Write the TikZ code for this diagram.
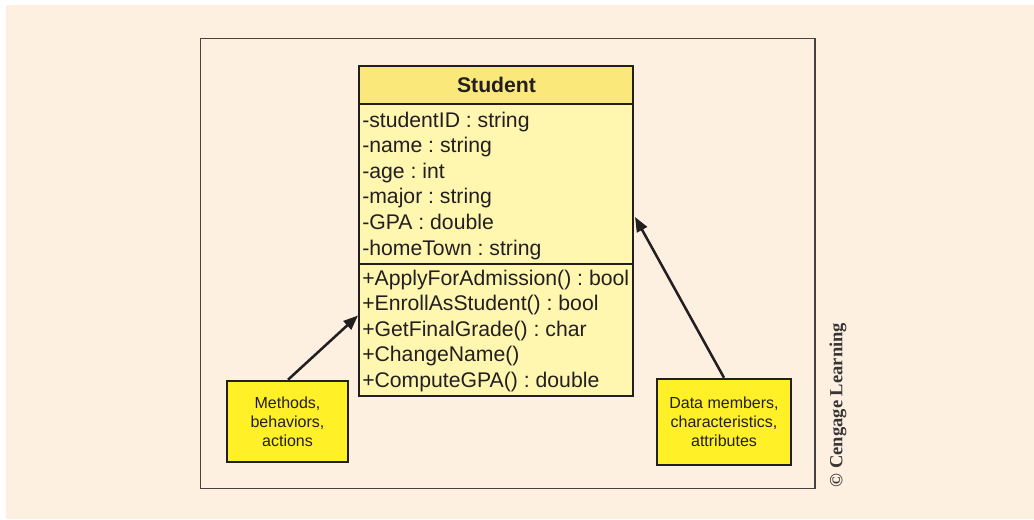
\documentclass[tikz,border=0pt]{standalone}
\usepackage{fontspec}
\setmainfont{Liberation Sans}
\newfontfamily\credfont{Liberation Serif}
\usetikzlibrary{arrows.meta}
\frenchspacing

\definecolor{paper}{RGB}{253,240,225}
\definecolor{ink}{RGB}{35,31,32}
\definecolor{framegray}{RGB}{70,66,66}
\definecolor{headyellow}{RGB}{250,232,122}
\definecolor{bodyyellow}{RGB}{255,246,176}
\definecolor{noteyellow}{RGB}{255,240,40}

\tikzset{
  px/.style={x=0.75pt,y=-0.75pt},
  compartment/.style={draw=ink,line width=1.9pt,rectangle,inner sep=0pt,
    minimum width=205.5pt},
  member/.style={anchor=base west,inner sep=0pt,text=ink,
    font=\fontsize{15.9}{19}\selectfont},
  note/.style={draw=ink,line width=1.9pt,fill=noteyellow,rectangle,
    inner sep=0pt,align=center,text=ink,
    font=\fontsize{12}{14.25}\selectfont},
  pointer/.style={draw=ink,line width=1.9pt,
    -{Triangle[length=11pt,width=8.5pt]}},
}

\begin{document}
\begin{tikzpicture}[px]
  \useasboundingbox (0,0) rectangle (1034,519);
  \fill[white] (0,0) rectangle (1034,519);
  \fill[paper] (6,5) rectangle (1034,519);

  % outer frame
  \draw[framegray,line width=1.1pt] (200.5,38.5) rectangle (815,488.5);

  % class box: name, attributes, operations
  \node[compartment,fill=headyellow,minimum height=28.5pt] (head) at (496,85) {};
  \node[compartment,fill=bodyyellow,minimum height=120pt] (attrs) at (496,184) {};
  \node[compartment,fill=bodyyellow,minimum height=99pt] (ops) at (496,330) {};

  \node[anchor=base,inner sep=0pt,text=ink,
        font=\fontsize{15.9}{19}\selectfont\bfseries] (title) at (496.5,92) {Student};

  \foreach \txt [count=\i] in {
      -studentID : string,
      -name : string,
      -age : int,
      -major : string,
      -GPA : double,
      -homeTown : string}
    \node[member] (a\i) at (362,{127+25.6*(\i-1)}) {\txt};

  \foreach \txt [count=\i] in {
      +ApplyForAdmission() : bool,
      +EnrollAsStudent() : bool,
      +GetFinalGrade() : char,
      +ChangeName(),
      +ComputeGPA() : double}
    \node[member] (m\i) at (362,{285+25.5*(\i-1)}) {\txt};

  % explanatory notes
  \node[note,minimum width=90.75pt,minimum height=60.75pt] (methods)
    at (287.5,421.5) {Methods,\\behaviors,\\actions};
  \node[note,minimum width=100.5pt,minimum height=64.5pt] (data)
    at (724,422) {Data members,\\characteristics,\\attributes};

  % arrow targets on the class box
  \coordinate (optarget) at (358,315.5);
  \coordinate (attrtarget) at (635,217);

  \draw[pointer] (methods.north) ++(0.5,0) -- (optarget);
  \draw[pointer] (data.north) -- (attrtarget);

  % credit line
  \node[rotate=90,inner sep=0pt,text=ink!90,
        font=\credfont\fontsize{13.9}{16}\selectfont\bfseries] (credit)
    at (838,405) {© Cengage Learning};
\end{tikzpicture}
\end{document}
